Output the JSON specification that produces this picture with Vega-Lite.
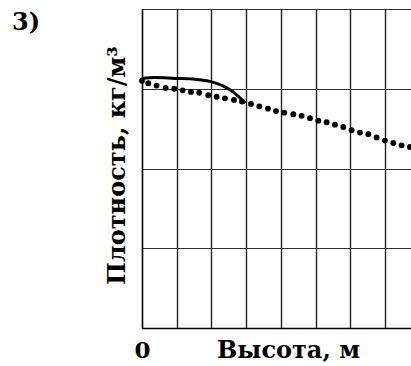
{
  "$schema": "https://vega.github.io/schema/vega-lite/v6.json",
  "autosize": "none",
  "padding": {"left": 142, "top": 9, "right": 0, "bottom": 38},
  "width": 270,
  "height": 319,
  "background": "white",
  "config": {"view": {"stroke": null}, "font": "DejaVu Serif"},
  "title": {"text": "3)", "anchor": "start", "frame": "group", "dx": -130, "dy": 45, "fontSize": 24, "fontWeight": "bold", "font": "DejaVu Serif", "color": "black", "baseline": "alphabetic", "offset": 0},
  "datasets": {
    "dots": [
      {"h": 0.0, "rho": 3.10}, {"h": 0.18, "rho": 3.07}, {"h": 0.42, "rho": 3.04}, {"h": 0.68, "rho": 3.01},
      {"h": 0.93, "rho": 3.00}, {"h": 1.17, "rho": 2.98}, {"h": 1.41, "rho": 2.96}, {"h": 1.65, "rho": 2.95},
      {"h": 1.91, "rho": 2.92}, {"h": 2.15, "rho": 2.90}, {"h": 2.39, "rho": 2.88}, {"h": 2.65, "rho": 2.86},
      {"h": 2.88, "rho": 2.84}, {"h": 3.14, "rho": 2.81}, {"h": 3.38, "rho": 2.78}, {"h": 3.63, "rho": 2.75},
      {"h": 3.86, "rho": 2.72}, {"h": 4.10, "rho": 2.70}, {"h": 4.36, "rho": 2.68}, {"h": 4.60, "rho": 2.66},
      {"h": 4.84, "rho": 2.63}, {"h": 5.08, "rho": 2.60}, {"h": 5.32, "rho": 2.58}, {"h": 5.56, "rho": 2.55},
      {"h": 5.80, "rho": 2.52}, {"h": 6.04, "rho": 2.48}, {"h": 6.28, "rho": 2.45}, {"h": 6.52, "rho": 2.43},
      {"h": 6.76, "rho": 2.39}, {"h": 7.00, "rho": 2.35}, {"h": 7.24, "rho": 2.32}, {"h": 7.48, "rho": 2.29},
      {"h": 7.72, "rho": 2.27}
    ],
    "solid": [
      {"h": 0.0, "rho": 3.13}, {"h": 0.37, "rho": 3.14}, {"h": 0.95, "rho": 3.13}, {"h": 1.53, "rho": 3.12},
      {"h": 1.87, "rho": 3.10}, {"h": 2.13, "rho": 3.07}, {"h": 2.36, "rho": 3.03}, {"h": 2.56, "rho": 2.98},
      {"h": 2.74, "rho": 2.92}, {"h": 2.88, "rho": 2.86}, {"h": 2.97, "rho": 2.82}
    ]
  },
  "layer": [
    {
      "data": {"name": "dots"},
      "mark": {"type": "point", "filled": true, "color": "black", "size": 34, "opacity": 1},
      "encoding": {
        "x": {"field": "h", "type": "quantitative",
          "scale": {"domain": [0, 7.78], "nice": false, "zero": false},
          "axis": {"values": [0, 1, 2, 3, 4, 5, 6, 7], "tickCount": 20, "grid": true, "gridColor": "#222", "gridWidth": 1.4, "gridOpacity": 1,
            "domain": true, "domainColor": "black", "domainWidth": 1.3, "ticks": false, "tickSize": 0, "labelOverlap": false,
            "labelExpr": "datum.value == 0 ? '0' : ''", "labelFont": "DejaVu Serif", "labelFontWeight": "bold", "labelFontSize": 23,
            "labelColor": "black", "labelAlign": "center", "labelBaseline": "alphabetic", "labelDx": -22, "labelPadding": 29,
            "title": "Высота, м", "titleFont": "DejaVu Serif", "titleFontWeight": "bold", "titleFontSize": 24, "titleColor": "black",
            "titleX": 146, "titleY": 29, "titleAlign": "center", "titleBaseline": "alphabetic"}},
        "y": {"field": "rho", "type": "quantitative",
          "scale": {"domain": [0, 4], "nice": false, "zero": false},
          "axis": {"values": [0, 1, 2, 3, 4], "tickCount": 20, "grid": true, "gridColor": "#333", "gridWidth": 1.1, "gridOpacity": 1,
            "domain": true, "domainColor": "black", "domainWidth": 1.3, "ticks": false, "tickSize": 0, "labels": false,
            "title": "Плотность, кг/м³", "titleFont": "DejaVu Serif", "titleFontWeight": "bold", "titleFontSize": 24, "titleColor": "black",
            "titleX": -18, "titleY": 156, "titleAngle": 270, "titleAlign": "center", "titleBaseline": "alphabetic"}}
      }
    },
    {
      "data": {"name": "solid"},
      "mark": {"type": "line", "color": "black", "strokeWidth": 3, "interpolate": "monotone"},
      "encoding": {
        "x": {"field": "h", "type": "quantitative"},
        "y": {"field": "rho", "type": "quantitative"}
      }
    }
  ]
}
